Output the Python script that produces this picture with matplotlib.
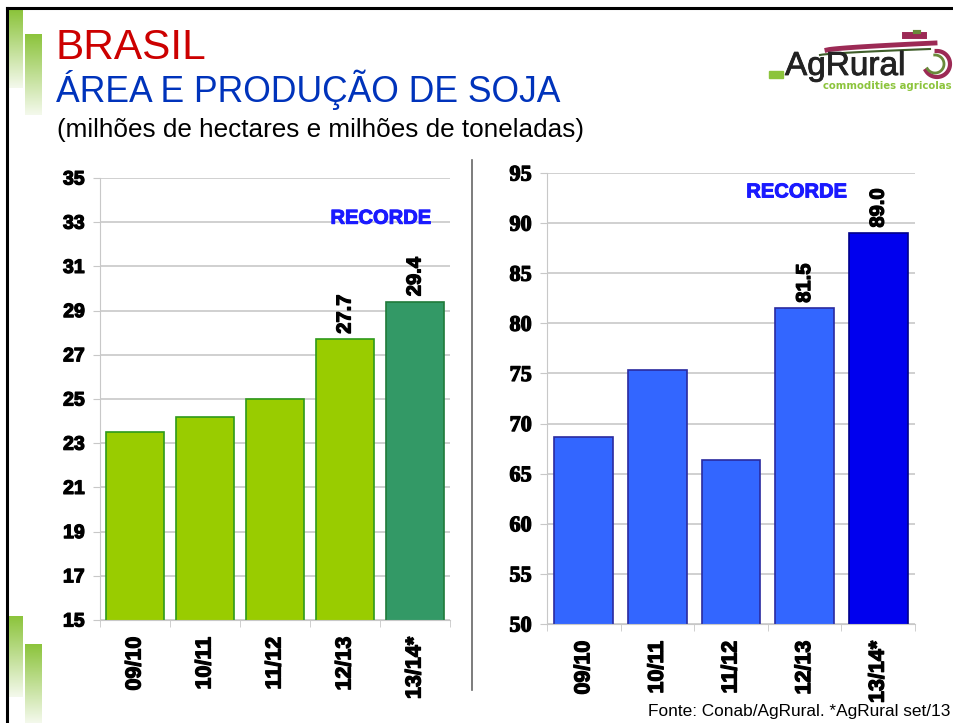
import numpy as np
import matplotlib
matplotlib.use("Agg")
import matplotlib.pyplot as plt
import matplotlib.patheffects as pe
from matplotlib.lines import Line2D
from matplotlib.patches import Rectangle
from matplotlib.colors import LinearSegmentedColormap

# dados
safras = ["09/10", "10/11", "11/12", "12/13", "13/14*"]
area = [23.5, 24.2, 25.0, 27.7, 29.4]          # milhoes de hectares
producao = [68.7, 75.3, 66.4, 81.5, 89.0]      # milhoes de toneladas
area_labels = {3: "27.7", 4: "29.4"}
prod_labels = {3: "81.5", 4: "89.0"}

W, H = 954, 723
fig = plt.figure(figsize=(W / 100, H / 100), dpi=100)
fig.patch.set_facecolor("white")


def fx(px):
    return px / W


def fy(py):
    return 1 - py / H


# contorno para engrossar o negrito
heavy = [pe.withStroke(linewidth=0.9, foreground="black")]
heavy_b = [pe.withStroke(linewidth=0.7, foreground="#1a1aff")]

# moldura do slide
fig.add_artist(Line2D([fx(7), fx(7)], [fy(8), 0], color="black", lw=2.2))
fig.add_artist(Line2D([fx(7), 1], [fy(8), fy(8)], color="black", lw=2.2))

# barras decorativas verdes (gradiente)
grad = np.linspace(0, 1, 100).reshape(-1, 1)
cm_g = LinearSegmentedColormap.from_list("g", ["#8cc43c", "#f4f9ec"])
for (x0, x1, y0, y1) in [(9, 23, 10, 88), (25, 42, 34, 115), (9, 23, 616, 697), (25, 42, 644, 723)]:
    axd = fig.add_axes([fx(x0), fy(y1), fx(x1 - x0), (y1 - y0) / H])
    axd.imshow(grad, aspect="auto", cmap=cm_g)
    axd.axis("off")

# titulos
fig.text(fx(56), fy(59), "BRASIL", color="#cc0000", fontsize=30.5,
         family="Liberation Sans", va="baseline", ha="left")
fig.text(fx(56), fy(102), "ÁREA E PRODUÇÃO DE SOJA", color="#0033bb", fontsize=25.6,
         family="Liberation Sans", va="baseline", ha="left")
fig.text(fx(57), fy(137), "(milhões de hectares e milhões de toneladas)", color="black",
         fontsize=18.8, family="Liberation Sans", va="baseline", ha="left")

# logo AgRural (aproximado)
axl = fig.add_axes([fx(765), fy(92), fx(189), 70 / H])
axl.set_xlim(0, 189)
axl.set_ylim(0, 70)
axl.axis("off")
t = np.linspace(0, 1, 50)
axl.plot(62 + 108 * t, 42 + 7 * t ** 0.7, color="#9c2a55", lw=3.5)
axl.plot(55 + 110 * t, 37 + 6 * t ** 0.7, color="#3f5d2a", lw=1.5)
axl.plot([140, 158], [57, 57], color="#9c2a55", lw=5)
axl.plot([150, 154], [60, 60], color="#6a8a3a", lw=3)
ang = np.linspace(-2.6, 1.6, 60)
axl.plot(172 + 13 * np.cos(ang), 28 + 13 * np.sin(ang), color="#9c2a55", lw=3)
axl.plot(170 + 9 * np.cos(ang), 28 + 9 * np.sin(ang), color="#6a8a3a", lw=2)
axl.add_patch(Rectangle((4, 14), 14, 7, color="#8cc43c"))
axl.text(20, 17, "AgRural", fontsize=24, color="#222222", family="Liberation Sans",
         va="baseline", ha="left", path_effects=[pe.withStroke(linewidth=0.6, foreground="#222222")])
axl.text(187, 3, "commodities agricolas", fontsize=7.3, color="#8cc43c",
         family="DejaVu Sans", fontweight="bold", va="baseline", ha="right")

# separador
fig.add_artist(Line2D([fx(472), fx(472)], [fy(160), fy(690)], color="#666666", lw=1.2))

grid_c = "#c8c8c8"


def style_axes(ax, tick_font):
    for s in ["top", "right"]:
        ax.spines[s].set_visible(False)
    ax.spines["left"].set_color(grid_c)
    ax.spines["bottom"].set_color(grid_c)
    ax.yaxis.grid(True, color=grid_c, lw=1.2)
    ax.set_axisbelow(True)
    ax.set_xlim(-0.5, 4.5)
    ax.set_xticks(range(5))
    ax.set_xticklabels(safras, rotation=90, fontsize=15.5, fontweight="bold",
                       family="Liberation Sans")
    ax.set_xticks(np.arange(-0.5, 5, 1), minor=True)
    ax.tick_params(axis="x", which="major", length=0, pad=12)
    ax.tick_params(axis="x", which="minor", length=5, color=grid_c)
    ax.tick_params(axis="y", length=5, color=grid_c, pad=6)
    for lab in ax.get_yticklabels() + ax.get_xticklabels():
        lab.set_fontweight("bold")
        lab.set_path_effects(heavy)
    for lab in ax.get_yticklabels():
        lab.set_family(tick_font)


# area
ax1 = fig.add_axes([fx(100), fy(620), fx(350), 442 / H])
c1 = ["#99cc00"] * 4 + ["#339966"]
e1 = ["#2e9a1a"] * 4 + ["#1f7a3a"]
ax1.bar(range(5), area, width=0.82, color=c1, edgecolor=e1, lw=1.2)
ax1.set_ylim(15, 35)
ax1.set_yticks(range(15, 36, 2))
ax1.set_yticklabels([str(v) for v in range(15, 36, 2)], fontsize=14)
style_axes(ax1, "Liberation Sans")
for i, lab in area_labels.items():
    ax1.annotate(lab, (i, area[i]), xytext=(0, 4), textcoords="offset points",
                 rotation=90, ha="center", va="bottom", fontsize=14.5,
                 fontweight="bold", family="Liberation Sans", path_effects=heavy)
ax1.text(0.803, 0.909, "RECORDE", transform=ax1.transAxes, color="#1a1aff",
         fontsize=14.5, fontweight="bold", family="Liberation Sans",
         ha="center", va="center", path_effects=heavy_b)

# producao
ax2 = fig.add_axes([fx(547), fy(624), fx(368), 451 / H])
c2 = ["#3366ff"] * 4 + ["#0000ee"]
e2 = ["#2a2aa0"] * 4 + ["#00008a"]
ax2.bar(range(5), producao, width=0.8, color=c2, edgecolor=e2, lw=1.2)
ax2.set_ylim(50, 95)
ax2.set_yticks(range(50, 96, 5))
ax2.set_yticklabels([str(v) for v in range(50, 96, 5)], fontsize=16)
style_axes(ax2, "Liberation Serif")
for i, lab in prod_labels.items():
    ax2.annotate(lab, (i, producao[i]), xytext=(0, 4), textcoords="offset points",
                 rotation=90, ha="center", va="bottom", fontsize=14.5,
                 fontweight="bold", family="Liberation Sans", path_effects=heavy)
ax2.text(0.679, 0.958, "RECORDE", transform=ax2.transAxes, color="#1a1aff",
         fontsize=14.5, fontweight="bold", family="Liberation Sans",
         ha="center", va="center", path_effects=heavy_b)

fig.text(fx(950), fy(716), "Fonte: Conab/AgRural. *AgRural set/13", fontsize=12.4,
         family="Liberation Sans", ha="right", va="baseline")

fig.savefig("out.png", dpi=100)
